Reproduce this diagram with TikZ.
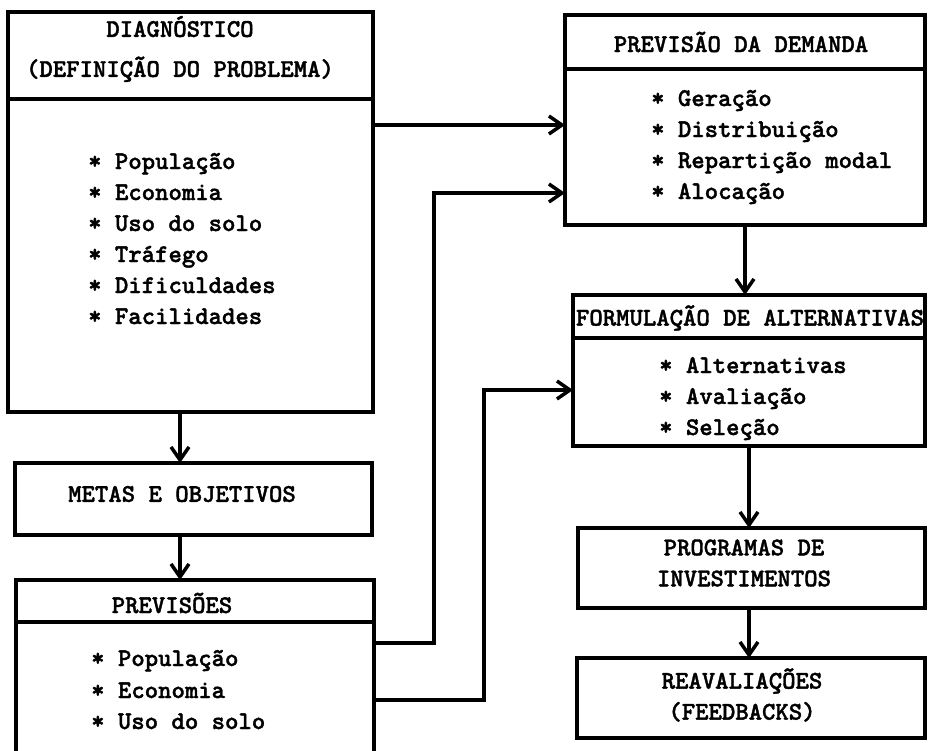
\documentclass[tikz,border=0pt]{standalone}
\usepackage{fontspec}
\newfontfamily\maquina[Extension=.otf, FakeBold=1.5]{lmmonolt10-bold}
\usetikzlibrary{arrows.meta}
\tikzset{
  caixa/.style={draw, line width=3.5pt, inner sep=0pt, outer sep=0pt, anchor=north west},
  divisao/.style={line width=3.5pt},
  seta/.style={line width=3.5pt, -{Straight Barb[length=13pt,width=18pt]}},
  texto/.style={font=\maquina\fontsize{25.5}{31}\selectfont, inner sep=0pt},
  item/.style={texto, anchor=west, text height=17pt, text depth=5pt},
}
\begin{document}
\begin{tikzpicture}[x=1pt,y=-1pt]
  \useasboundingbox (0,0) rectangle (928,750);
  \clip (0,0) rectangle (928,750);
  \node[caixa, minimum width=365pt, minimum height=400pt] (diag) at (8,12) {};
  \node[caixa, minimum width=360pt, minimum height=210pt] (pd) at (565,15) {};
  \node[caixa, minimum width=352pt, minimum height=151pt] (fa) at (573,295) {};
  \node[caixa, minimum width=347pt, minimum height=80pt] (prog) at (578,528) {};
  \node[caixa, minimum width=348pt, minimum height=80pt] (reav) at (577,658) {};
  \node[caixa, minimum width=357pt, minimum height=72pt] (metas) at (15,463) {};
  \node[caixa, minimum width=358pt, minimum height=190pt] (prev) at (16,580) {};
  \draw[divisao] (diag.west |- 0,99) -- (diag.east |- 0,99);
  \draw[divisao] (pd.west |- 0,69) -- (pd.east |- 0,69);
  \draw[divisao] (fa.west |- 0,338) -- (fa.east |- 0,338);
  \draw[divisao] (prev.west |- 0,622) -- (prev.east |- 0,622);
  \node[texto, align=center] (diagtit) at (180,49) {DIAGNÓSTICO\\[9pt](DEFINIÇÃO DO PROBLEMA)};
  \node[item] (diag1) at (88,163) {* População};
  \node[item] (diag2) at (88,194) {* Economia};
  \node[item] (diag3) at (88,225) {* Uso do solo};
  \node[item] (diag4) at (88,256) {* Tráfego};
  \node[item] (diag5) at (88,287) {* Dificuldades};
  \node[item] (diag6) at (88,318) {* Facilidades};
  \node[texto] (pdtit) at (741,42) {PREVISÃO DA DEMANDA};
  \node[item] (pd1) at (651,100) {* Geração};
  \node[item] (pd2) at (651,131) {* Distribuição};
  \node[item] (pd3) at (651,162) {* Repartição modal};
  \node[item] (pd4) at (651,193) {* Alocação};
  \node[texto] (fatit) at (750,318) {FORMULAÇÃO DE ALTERNATIVAS};
  \node[item] (fa1) at (659,367) {* Alternativas};
  \node[item] (fa2) at (659,398) {* Avaliação};
  \node[item] (fa3) at (659,429) {* Seleção};
  \node[texto, align=center] (progtit) at (744,563) {PROGRAMAS DE\\INVESTIMENTOS};
  \node[texto, align=center] (reavtit) at (742,695) {REAVALIAÇÕES\\(FEEDBACKS)};
  \node[texto] (metastit) at (182,494) {METAS E OBJETIVOS};
  \node[texto] (prevtit) at (172,603) {PREVISÕES};
  \node[item] (prev1) at (91,660) {* População};
  \node[item] (prev2) at (91,692) {* Economia};
  \node[item] (prev3) at (91,723) {* Uso do solo};
  \draw[seta] (diag.east |- 0,125) -- (pd.west |- 0,125);
  \draw[seta] (prev.east |- 0,643) -| (434,193) -- (pd.west |- 0,193);
  \draw[seta] (prev.east |- 0,700) -| (484,390) -- (fa.west |- 0,390);
  \draw[seta] (diag.south -| 180,0) -- (metas.north -| 180,0);
  \draw[seta] (metas.south -| 180,0) -- (prev.north -| 180,0);
  \draw[seta] (pd.south) -- (fa.north -| pd.south);
  \draw[seta] (fa.south) -- (prog.north -| fa.south);
  \draw[seta] (prog.south -| fa.south) -- (reav.north -| fa.south);
\end{tikzpicture}
\end{document}
